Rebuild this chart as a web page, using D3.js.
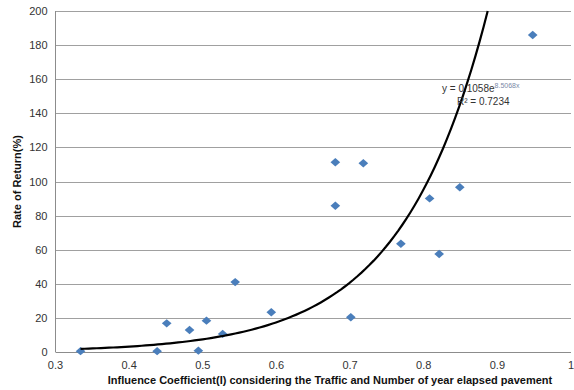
<!DOCTYPE html>
<html>
<head>
    <script src="https://d3js.org/d3.v7.min.js"></script>
    <style>
        body { margin: 0; background: #fff; }
        text { font-family: "Liberation Sans", Arial, sans-serif; }
    </style>
</head>
<body>
    <svg width="574" height="390"></svg>

    <script>
        // influence coefficient (x) and rate of return % (y)
        var coef = [0.334, 0.438, 0.451, 0.482, 0.494, 0.505, 0.527, 0.544, 0.593,
                    0.680, 0.680, 0.701, 0.718, 0.769, 0.808, 0.821, 0.849, 0.948];
        var rate = [0.5, 0.5, 16.8, 12.9, 0.8, 18.4, 10.6, 41.0, 23.3,
                    85.8, 111.3, 20.4, 110.7, 63.5, 90.1, 57.5, 96.6, 185.9];

        var xTicks = [0.3, 0.4, 0.5, 0.6, 0.7, 0.8, 0.9, 1];
        var yTicks = [0, 20, 40, 60, 80, 100, 120, 140, 160, 180, 200];

        // exponential trend y = a * e^(b x)
        var trendA = 0.1058, trendB = 8.5068;

        var svg = d3.select("svg");
        var plotL = 55.5, plotR = 571, plotT = 11, plotB = 352;

        var x = d3.scaleLinear().domain([0.3, 1]).range([plotL, plotR]);
        var y = d3.scaleLinear().domain([0, 200]).range([plotB, plotT]);

        // gridlines
        svg.append("g")
            .selectAll("line")
            .data(yTicks)
            .enter().append("line")
            .attr("x1", plotL).attr("x2", plotR)
            .attr("y1", function(d) { return Math.round(y(d)) + 0.5; })
            .attr("y2", function(d) { return Math.round(y(d)) + 0.5; })
            .attr("stroke", function(d) { return d === 0 ? "#8c8c8c" : "#a0a0a0"; })
            .attr("stroke-width", 1);

        // left axis line
        svg.append("line")
            .attr("x1", plotL).attr("x2", plotL)
            .attr("y1", y(200)).attr("y2", y(0))
            .attr("stroke", "#8c8c8c");

        // tick labels
        svg.append("g")
            .selectAll("text")
            .data(yTicks)
            .enter().append("text")
            .attr("x", plotL - 8)
            .attr("y", function(d) { return y(d) + 4; })
            .attr("text-anchor", "end")
            .attr("font-size", "11px")
            .attr("fill", "#333")
            .text(function(d) { return d; });

        svg.append("g")
            .selectAll("text")
            .data(xTicks)
            .enter().append("text")
            .attr("x", function(d) { return x(d); })
            .attr("y", plotB + 17)
            .attr("text-anchor", "middle")
            .attr("font-size", "11px")
            .attr("fill", "#333")
            .text(function(d) { return d; });

        // points (wide diamonds like the Excel marker)
        var diamond = d3.symbol().type(d3.symbolDiamond).size(36);
        svg.append("g")
            .selectAll("path")
            .data(coef.map(function(c, i) { return [c, rate[i]]; }))
            .enter().append("path")
            .attr("d", diamond)
            .attr("transform", function(d) {
                return "translate(" + x(d[0]) + "," + y(d[1]) + ") scale(1.5,0.75)";
            })
            .attr("fill", "#4a7ebb");

        // trendline
        var xMin = d3.min(coef);
        var xMax = Math.log(200 / trendA) / trendB;
        var trend = d3.range(0, 101).map(function(i) {
            var xv = xMin + (xMax - xMin) * i / 100;
            return [xv, trendA * Math.exp(trendB * xv)];
        });
        svg.append("path")
            .datum(trend)
            .attr("d", d3.line()
                .x(function(d) { return x(d[0]); })
                .y(function(d) { return y(d[1]); }))
            .attr("fill", "none")
            .attr("stroke", "#000")
            .attr("stroke-width", 2.2);

        // equation
        var eq = svg.append("text")
            .attr("x", 442).attr("y", 92)
            .attr("font-size", "10px")
            .attr("fill", "#333");
        eq.append("tspan").text("y = " + trendA + "e");
        eq.append("tspan")
            .attr("dy", -4)
            .attr("font-size", "7px")
            .attr("fill", "#7a8aa8")
            .text(trendB.toFixed(4) + "x");
        svg.append("text")
            .attr("x", 457).attr("y", 105)
            .attr("font-size", "10px")
            .attr("fill", "#333")
            .text("R² = 0.7234");

        // axis titles
        svg.append("text")
            .attr("transform", "translate(21," + ((plotT + plotB) / 2) + ") rotate(-90)")
            .attr("text-anchor", "middle")
            .attr("font-size", "11px")
            .attr("font-weight", "bold")
            .attr("fill", "#111")
            .text("Rate of Return(%)");

        svg.append("text")
            .attr("x", 330).attr("y", 384)
            .attr("text-anchor", "middle")
            .attr("font-size", "11px")
            .attr("font-weight", "bold")
            .attr("fill", "#111")
            .text("Influence Coefficient(I) considering the Traffic and Number of year elapsed pavement");
    </script>
</body>
</html>
